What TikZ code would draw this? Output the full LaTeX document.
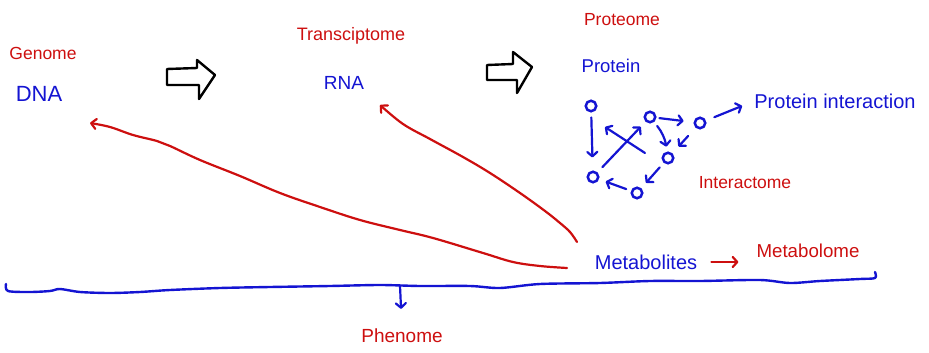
\documentclass[tikz,border=0pt]{standalone}
\usepackage{fontspec}
\setmainfont{Liberation Sans}
\usetikzlibrary{arrows.meta}
\definecolor{hb}{RGB}{20,20,210}
\definecolor{hr}{RGB}{205,15,15}
\begin{document}
\begin{tikzpicture}[x=1pt,y=-1pt,
  lbl/.style={inner sep=0pt, font=\fontsize{17.5}{19}\selectfont},
  rl/.style={lbl,text=hr},
  bl/.style={lbl,text=hb},
  circ/.style={draw=hb, line width=2.5pt, circle, minimum size=10.5pt, inner sep=0pt},
  arr/.style={draw=hb, line width=2.2pt, line cap=round, -{Straight Barb[length=4.5pt,width=10pt,round]}},
  rarr/.style={draw=hr, line width=2.2pt, line cap=round, -{Straight Barb[length=4.5pt,width=10pt,round]}},
  redline/.style={draw=hr, line width=2.2pt, line cap=round, line join=round},
  hollow/.style={draw=black, line width=2.4pt, line join=round, fill=white}]
\useasboundingbox (0,0) rectangle (929,353);

% texts
\node[rl] (gen) at (43,53) {Genome};
\node[bl, font=\fontsize{22}{24}\selectfont] (dna) at (39,94) {DNA};
\node[rl, font=\fontsize{18}{20}\selectfont] (tra) at (351,36) {Transciptome};
\node[bl, font=\fontsize{19}{21}\selectfont] (rna) at (344,83) {RNA};
\node[rl] (pro) at (622,20) {Proteome};
\node[bl, font=\fontsize{18.5}{20}\selectfont] (prt) at (611,66) {Protein};
\node[bl, font=\fontsize{20}{22}\selectfont] (pi) at (835,101) {Protein interaction};
\node[rl] (int) at (745,183) {Interactome};
\node[bl, font=\fontsize{20}{22}\selectfont] (met) at (646,262) {Metabolites};
\node[rl, font=\fontsize{18.7}{20}\selectfont] (mbl) at (808,251) {Metabolome};
\node[rl, font=\fontsize{19}{21}\selectfont] (phe) at (402,336) {Phenome};

% hollow block arrows
\draw[hollow] (167,69) -- (197,68) -- (197,60) -- (215,75) -- (199,99) -- (199,85) -- (167,85) -- cycle;
\draw[hollow] (487,65) -- (513,64) -- (513,52) -- (532,67) -- (517,93) -- (517,80) -- (487,80) -- cycle;

% interaction network
\node[circ] (c1) at (591,106) {};
\node[circ] (c2) at (593,177) {};
\node[circ] (c3) at (637,193) {};
\node[circ] (c4) at (650,117) {};
\node[circ] (c5) at (700,123) {};
\node[circ] (c6) at (668,158) {};
\coordinate (x1) at (645,153);
\coordinate (x2) at (605,127);

\draw[arr, shorten <=5pt, shorten >=13pt] (c1) -- (c2);
\draw[arr, shorten <=7pt, shorten >=7pt] (c2) -- (c4);
\draw[arr] (x1) -- (x2);
\draw[arr, shorten <=3pt, shorten >=10pt] (c4) -- (c5);
\draw[arr, shorten <=5pt, shorten >=5pt] (c4) to[bend left=15] (c6);
\draw[arr, shorten <=11pt, shorten >=9pt] (c5) -- (c6);
\draw[arr, shorten <=6pt, shorten >=7pt] (c6) -- (c3);
\draw[arr, shorten <=5pt, shorten >=7pt] (c3) -- (c2);
\draw[arr, shorten <=9pt, shorten >=13pt] (c5) -- (pi.west);

% metabolites -> metabolome
\draw[rarr, shorten <=14pt, shorten >=18pt] (met.east) -- (mbl.west |- met.east);

% red feedback curves
\draw[redline, -{Straight Barb[length=5pt,width=10pt,round]}] plot[smooth, tension=0.6] coordinates {
  (567,268) (540,266) (513,262) (483,253) (433,238) (400,230) (360,220) (320,207)
  (280,193) (240,176) (200,160) (170,146) (157,141) (133,135) (110,127) (90,123)};
\draw[redline, -{Straight Barb[length=5pt,width=10pt,round]}] plot[smooth, tension=0.6] coordinates {
  (577,242) (570,232) (560,223) (545,211) (520,193) (490,173) (463,157) (430,139) (403,124) (380,105)};

% base line
\draw[draw=hb, line width=2.4pt, line cap=round, line join=round] plot[smooth, tension=0.5] coordinates {
  (6,284) (8,291) (30,292) (50,291) (60,289) (80,292) (110,293) (140,292) (170,290) (220,288)
  (270,287) (330,286) (380,285) (420,286) (470,286) (500,288) (540,284) (600,283) (650,281)
  (700,281) (760,280) (790,283) (820,281) (860,279) (875,278) (875,272)};
\coordinate (ph0) at (400,286);
\draw[arr, shorten >=20pt] (ph0) -- (phe.north);
\end{tikzpicture}
\end{document}
